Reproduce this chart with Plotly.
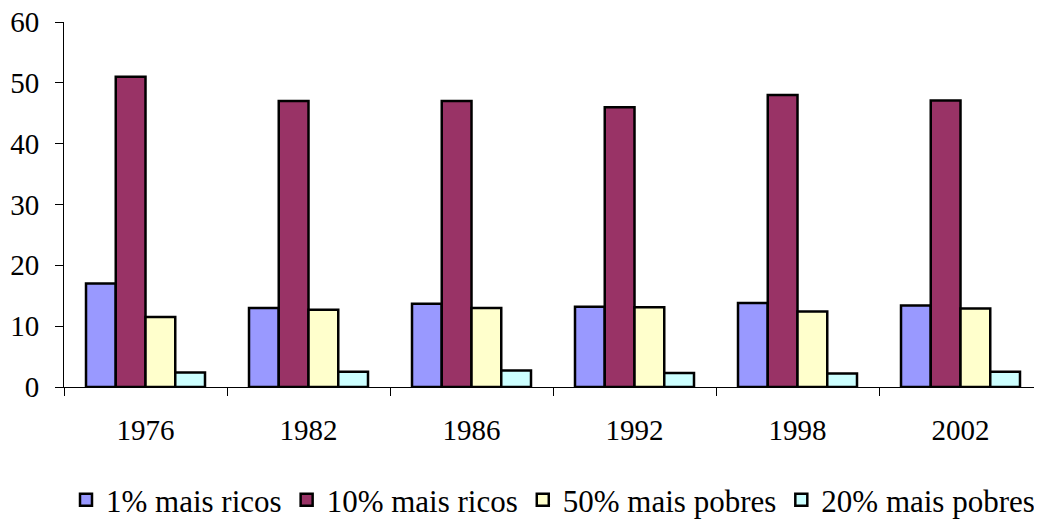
import plotly.graph_objects as go

years = ["1976", "1982", "1986", "1992", "1998", "2002"]
ricos_1 = [17.0, 13.0, 13.7, 13.2, 13.8, 13.4]
ricos_10 = [51.0, 47.0, 47.0, 46.0, 48.0, 47.1]
pobres_50 = [11.5, 12.7, 13.0, 13.1, 12.4, 12.9]
pobres_20 = [2.4, 2.5, 2.7, 2.3, 2.2, 2.5]

names = ["1% mais ricos", "10% mais ricos", "50% mais pobres", "20% mais pobres"]
series = [ricos_1, ricos_10, pobres_50, pobres_20]
colors = ["#9999FF", "#993366", "#FFFFCC", "#CCFFFF"]

font = "Times New Roman, Liberation Serif, serif"

fig = go.Figure()
for n, s, c in zip(names, series, colors):
    fig.add_trace(go.Bar(x=years, y=s, name=n, marker=dict(color=c, line=dict(color="black", width=2.5))))

# page has an 8px body margin; figure is sized to fill the remaining window
fig.update_layout(
    width=1034, height=511,
    barmode="group", bargap=0.27, bargroupgap=0,
    plot_bgcolor="white", paper_bgcolor="white",
    margin=dict(l=56, r=0, t=14, b=132, autoexpand=False),
    font=dict(family=font, size=29, color="black"),
    legend=dict(orientation="h", x=0.5, xanchor="center", y=-0.31, yanchor="middle",
                font=dict(family=font, size=31, color="black"), itemwidth=30,
                bgcolor="rgba(0,0,0,0)"),
    showlegend=True,
)
fig.update_yaxes(range=[0, 60], dtick=10, showgrid=False, zeroline=False, automargin=False,
                 showline=True, linecolor="black", linewidth=1, ticklabeloverflow="allow",
                 ticks="outside", ticklen=8, tickcolor="black", ticklabelstandoff=10)
fig.update_xaxes(showgrid=False, showline=True, linecolor="black", linewidth=1, automargin=False,
                 ticks="outside", ticklen=8, tickcolor="black", tickson="boundaries",
                 ticklabelstandoff=17, ticklabeloverflow="allow")

fig.write_html("out.html")
